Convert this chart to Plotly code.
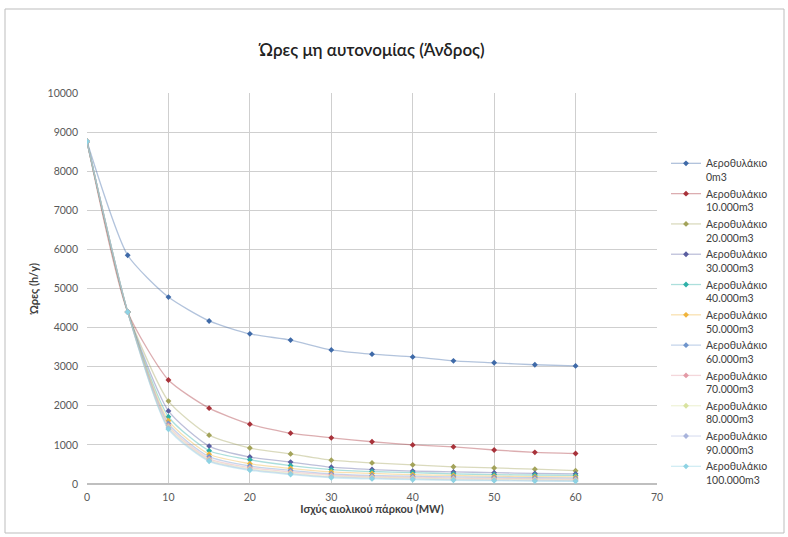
import plotly.graph_objects as go

# Installed wind-park capacity (MW)
capacity_mw = [0, 5, 10, 15, 20, 25, 30, 35, 40, 45, 50, 55, 60]

# Non-autonomy hours per year for each air-reservoir volume
hours_0 = [8760, 5850, 4780, 4170, 3840, 3680, 3430, 3320, 3250, 3150, 3100, 3050, 3020]
hours_10k = [8760, 4400, 2660, 1940, 1530, 1300, 1180, 1080, 1000, 950, 870, 810, 780]
hours_20k = [8760, 4400, 2120, 1250, 920, 770, 610, 540, 490, 440, 410, 380, 340]
hours_30k = [8760, 4400, 1870, 970, 690, 560, 430, 370, 330, 310, 290, 270, 260]
hours_40k = [8760, 4400, 1720, 850, 620, 470, 370, 320, 290, 260, 240, 230, 220]
hours_50k = [8760, 4400, 1620, 760, 520, 400, 310, 270, 240, 220, 200, 190, 180]
hours_60k = [8760, 4400, 1550, 700, 460, 350, 260, 220, 200, 180, 170, 160, 150]
hours_70k = [8760, 4400, 1500, 650, 420, 310, 230, 190, 170, 150, 140, 130, 120]
hours_80k = [8760, 4400, 1460, 620, 390, 280, 200, 170, 150, 130, 120, 110, 100]
hours_90k = [8760, 4400, 1430, 600, 370, 260, 180, 150, 130, 110, 100, 90, 80]
hours_100k = [8760, 4400, 1400, 580, 350, 240, 160, 130, 110, 95, 85, 75, 70]

series_names = [
    "Αεροθυλάκιο<br>0m3",
    "Αεροθυλάκιο<br>10.000m3",
    "Αεροθυλάκιο<br>20.000m3",
    "Αεροθυλάκιο<br>30.000m3",
    "Αεροθυλάκιο<br>40.000m3",
    "Αεροθυλάκιο<br>50.000m3",
    "Αεροθυλάκιο<br>60.000m3",
    "Αεροθυλάκιο<br>70.000m3",
    "Αεροθυλάκιο<br>80.000m3",
    "Αεροθυλάκιο<br>90.000m3",
    "Αεροθυλάκιο<br>100.000m3",
]
series_values = [hours_0, hours_10k, hours_20k, hours_30k, hours_40k, hours_50k,
                 hours_60k, hours_70k, hours_80k, hours_90k, hours_100k]

colors = ["#3F6AA8", "#A8323A", "#A3A35A", "#5A5EA0", "#2FB0A8", "#F0B43C",
          "#6F95CC", "#E39AA6", "#D9E3A0", "#A9B4DC", "#8ED3E3"]


def rgba(hex_color, alpha):
    h = hex_color.lstrip("#")
    r, g, b = int(h[0:2], 16), int(h[2:4], 16), int(h[4:6], 16)
    return f"rgba({r},{g},{b},{alpha})"


fig = go.Figure()
for name, vals, col in zip(series_names, series_values, colors):
    fig.add_trace(go.Scatter(
        x=capacity_mw, y=vals, name=name, mode="lines+markers",
        line=dict(color=rgba(col, 0.4), width=1.3, shape="spline", smoothing=0.6),
        marker=dict(color=col, size=4.5, symbol="diamond"),
    ))

font_family = "Lato, 'Open Sans', sans-serif"

fig.update_layout(
    width=788, height=537,
    margin=dict(l=87, r=131, t=93, b=53, autoexpand=False),
    paper_bgcolor="white", plot_bgcolor="white",
    font=dict(family=font_family, color="#404040"),
    title=dict(text="Ώρες μη αυτονομίας (Άνδρος)", x=0.5, xref="paper",
               y=1 - 50 / 537, yref="container", yanchor="middle",
               font=dict(size=17, color="#222222", weight=600)),
    showlegend=True,
    legend=dict(x=(666 - 87) / 570, xanchor="left", y=(484 - 150) / 391, yanchor="top",
                font=dict(size=10.5, color="#404040"),
                valign="top", tracegroupgap=0, itemwidth=30,
                bgcolor="rgba(0,0,0,0)"),
    xaxis=dict(range=[0, 70], dtick=10, showgrid=True, gridcolor="#CFCFCF",
               gridwidth=1, zeroline=False, showline=False,
               tickfont=dict(size=10.5, color="#595959"), ticks="",
               ticklabelstandoff=5,
               title=dict(text="<b>Ισχύς αιολικού πάρκου (MW)</b>",
                          font=dict(size=11, color="#404040"), standoff=0)),
    yaxis=dict(range=[0, 10000], dtick=1000, tickformat="d", showgrid=True,
               gridcolor="#CFCFCF", gridwidth=1, zeroline=True,
               zerolinecolor="#BFBFBF", showline=False,
               tickfont=dict(size=10.5, color="#595959"),
               ticks="", ticklabelstandoff=8,
               title=dict(text="<b>Ώρες (h/y)</b>",
                          font=dict(size=11, color="#404040"), standoff=6)),
)

# Outer chart-area frame
fig.add_shape(type="rect", xref="paper", yref="paper",
              x0=(5 - 87) / 570, x1=(784 - 87) / 570,
              y0=(484 - 533) / 391, y1=(484 - 9) / 391,
              line=dict(color="#BDBDBD", width=1), layer="below")

fig.write_html("out.html")
